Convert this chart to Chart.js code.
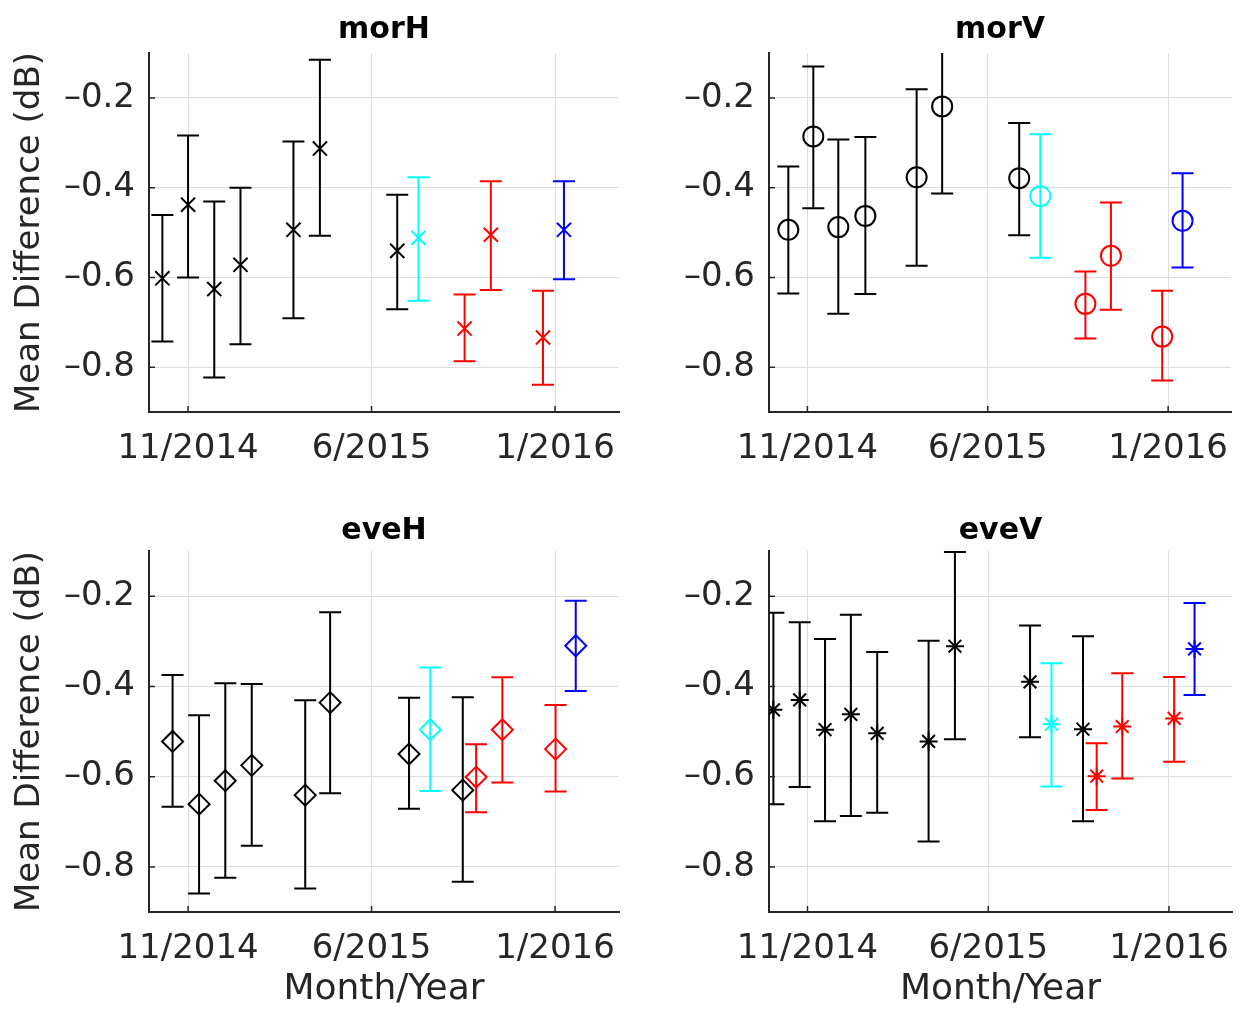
<!DOCTYPE html>
<html lang="en">
<head>
    <meta charset="UTF-8" />
    <title>Mean Difference by Month/Year</title>
    <script src="https://cdn.jsdelivr.net/npm/chart.js"></script>
    <style>
        body { margin: 0; background: #fff; }
        #wrap { position: relative; width: 1243px; height: 1011px; overflow: hidden; }
        #wrap canvas { position: absolute; }
    </style>
</head>
<body>
<div id="wrap">
    <canvas id="morH" width="640" height="490" style="left:0px;top:0px"></canvas>
    <canvas id="morV" width="603" height="490" style="left:640px;top:0px"></canvas>
    <canvas id="eveH" width="640" height="521" style="left:0px;top:490px"></canvas>
    <canvas id="eveV" width="603" height="521" style="left:640px;top:490px"></canvas>
</div>

<script>
    // x values are months counted from Jan 2014 (10 = 11/2014, 17 = 6/2015, 24 = 1/2016)
    const xTickMonths = [10, 17, 24];
    const xTickLabels = ['11/2014', '6/2015', '1/2016'];
    const yTicks = [-0.8, -0.6, -0.4, -0.2];

    // k = black, c = cyan, r = red, b = blue
    const morH_x     = [9.02, 10.0, 11.0, 12.0, 14.02, 15.03, 17.98, 18.79, 20.55, 21.55, 23.54, 24.34];
    const morH_mean  = [-0.602, -0.438, -0.626, -0.572, -0.494, -0.313, -0.541, -0.512, -0.714, -0.505, -0.734, -0.494];
    const morH_upper = [-0.461, -0.284, -0.431, -0.400, -0.297, -0.115, -0.416, -0.377, -0.638, -0.386, -0.630, -0.386];
    const morH_lower = [-0.743, -0.600, -0.823, -0.749, -0.691, -0.507, -0.671, -0.652, -0.787, -0.628, -0.839, -0.604];
    const morH_group = ['k', 'k', 'k', 'k', 'k', 'k', 'k', 'c', 'r', 'r', 'r', 'b'];

    const morV_x     = [9.26, 10.23, 11.2, 12.25, 14.24, 15.23, 18.22, 19.04, 20.79, 21.78, 23.77, 24.56];
    const morV_mean  = [-0.494, -0.286, -0.488, -0.463, -0.377, -0.219, -0.379, -0.419, -0.659, -0.552, -0.732, -0.474];
    const morV_upper = [-0.353, -0.130, -0.293, -0.287, -0.181, -0.02, -0.256, -0.281, -0.587, -0.433, -0.630, -0.368];
    const morV_lower = [-0.636, -0.446, -0.681, -0.637, -0.574, -0.413, -0.506, -0.556, -0.736, -0.672, -0.830, -0.578];
    const morV_group = ['k', 'k', 'k', 'k', 'k', 'k', 'k', 'c', 'r', 'r', 'r', 'b'];

    const eveH_x     = [9.41, 10.42, 11.42, 12.43, 14.47, 15.42, 18.43, 19.24, 20.48, 20.99, 21.99, 24.02, 24.79];
    const eveH_mean  = [-0.522, -0.661, -0.609, -0.575, -0.641, -0.436, -0.550, -0.496, -0.630, -0.601, -0.496, -0.539, -0.310];
    const eveH_upper = [-0.375, -0.464, -0.393, -0.395, -0.431, -0.236, -0.425, -0.358, -0.424, -0.528, -0.380, -0.441, -0.210];
    const eveH_lower = [-0.667, -0.859, -0.824, -0.753, -0.848, -0.637, -0.671, -0.632, -0.833, -0.679, -0.613, -0.633, -0.410];
    const eveH_group = ['k', 'k', 'k', 'k', 'k', 'k', 'k', 'c', 'k', 'r', 'r', 'r', 'b'];

    const eveV_x     = [8.68, 9.70, 10.68, 11.68, 12.70, 14.69, 15.71, 18.62, 19.45, 20.67, 21.2, 22.19, 24.2, 24.99];
    const eveV_mean  = [-0.452, -0.430, -0.496, -0.462, -0.504, -0.522, -0.311, -0.390, -0.484, -0.495, -0.599, -0.489, -0.471, -0.317];
    const eveV_upper = [-0.237, -0.258, -0.295, -0.241, -0.324, -0.299, -0.102, -0.265, -0.349, -0.289, -0.526, -0.371, -0.379, -0.215];
    const eveV_lower = [-0.661, -0.623, -0.699, -0.687, -0.680, -0.744, -0.517, -0.513, -0.622, -0.699, -0.674, -0.604, -0.567, -0.419];
    const eveV_group = ['k', 'k', 'k', 'k', 'k', 'k', 'k', 'k', 'c', 'k', 'r', 'r', 'r', 'b'];

    const groupColors = { k: '#000000', c: '#00ffff', r: '#ff0000', b: '#0000ff' };
    const textColor = '#262626';
    const FONT = "'DejaVu Sans', sans-serif";

    // vertical error bars with caps, drawn under the markers
    const errorBars = {
        id: 'errorBars',
        beforeDatasetsDraw(chart) {
            const ctx = chart.ctx;
            const area = chart.chartArea;
            const yScale = chart.scales.y;
            ctx.save();
            ctx.beginPath();
            ctx.rect(area.left, area.top, area.right - area.left, area.bottom - area.top);
            ctx.clip();
            chart.data.datasets.forEach((ds, di) => {
                chart.getDatasetMeta(di).data.forEach((pt, i) => {
                    const top = yScale.getPixelForValue(ds.upper[i]);
                    const bot = yScale.getPixelForValue(ds.lower[i]);
                    ctx.strokeStyle = ds.pointBorderColor[i];
                    ctx.lineWidth = 2;
                    ctx.beginPath();
                    ctx.moveTo(pt.x, top); ctx.lineTo(pt.x, bot);
                    ctx.moveTo(pt.x - 11, top); ctx.lineTo(pt.x + 11, top);
                    ctx.moveTo(pt.x - 11, bot); ctx.lineTo(pt.x + 11, bot);
                    ctx.stroke();
                });
            });
            ctx.restore();
        }
    };

    // small inward tick marks like the original axes
    const innerTicks = {
        id: 'innerTicks',
        afterDraw(chart) {
            const ctx = chart.ctx;
            const area = chart.chartArea;
            const xs = chart.scales.x, ys = chart.scales.y;
            ctx.save();
            ctx.strokeStyle = textColor;
            ctx.lineWidth = 1.5;
            ctx.beginPath();
            xs.ticks.forEach(t => {
                const px = xs.getPixelForValue(t.value);
                ctx.moveTo(px, area.bottom); ctx.lineTo(px, area.bottom - 6);
            });
            ys.ticks.forEach(t => {
                const py = ys.getPixelForValue(t.value);
                ctx.moveTo(area.left, py); ctx.lineTo(area.left + 6, py);
            });
            ctx.stroke();
            ctx.restore();
        }
    };

    function makePanel(id, xs, means, uppers, lowers, groups, title, marker, radius, leftCol, topRow) {
        const colors = groups.map(g => groupColors[g]);
        return new Chart(document.getElementById(id), {
            type: 'scatter',
            data: {
                datasets: [{
                    data: xs.map((x, i) => ({ x: x, y: means[i] })),
                    upper: uppers,
                    lower: lowers,
                    pointStyle: marker,
                    pointRadius: radius,
                    pointHoverRadius: radius,
                    pointBorderWidth: 2,
                    pointBorderColor: colors,
                    pointBackgroundColor: 'rgba(0,0,0,0)'
                }]
            },
            options: {
                responsive: false,
                animation: false,
                events: [],
                layout: { padding: { left: 0, right: leftCol ? 21 : 4, top: 0, bottom: 0 } },
                plugins: {
                    legend: { display: false },
                    tooltip: { enabled: false },
                    title: {
                        display: true,
                        text: title,
                        fullSize: false,
                        color: '#000',
                        font: { family: FONT, size: 30, weight: 'bold', lineHeight: 1.2 },
                        padding: topRow ? { top: 12, bottom: 5 } : { top: 23, bottom: 2 }
                    }
                },
                scales: {
                    x: {
                        type: 'linear',
                        min: 8.51,
                        max: 26.44,
                        afterBuildTicks: s => { s.ticks = xTickMonths.map(v => ({ value: v })); },
                        afterFit: s => { s.height = topRow ? 78 : 99; s.paddingLeft = 0; s.paddingRight = 0; },
                        ticks: {
                            autoSkip: false,
                            maxRotation: 0,
                            padding: 17,
                            color: textColor,
                            font: { family: FONT, size: 34 },
                            callback: v => xTickLabels[xTickMonths.indexOf(v)]
                        },
                        grid: { color: '#dcdcdc', lineWidth: 1, drawTicks: false },
                        border: { display: true, color: textColor, width: 2 },
                        title: {
                            display: !topRow,
                            text: 'Month/Year',
                            color: textColor,
                            font: { family: FONT, size: 36 },
                            padding: { top: 0, bottom: 0 }
                        }
                    },
                    y: {
                        min: -0.9,
                        max: -0.1,
                        afterBuildTicks: s => { s.ticks = yTicks.map(v => ({ value: v })); },
                        afterFit: s => { s.width = leftCol ? 149 : 129; s.paddingTop = 0; s.paddingBottom = 0; },
                        ticks: {
                            padding: 14,
                            color: textColor,
                            font: { family: FONT, size: 34 },
                            callback: v => v.toFixed(1).replace('-', '\u2013')
                        },
                        grid: { color: '#dcdcdc', lineWidth: 1, drawTicks: false },
                        border: { display: true, color: textColor, width: 2 },
                        title: {
                            display: leftCol,
                            text: 'Mean Difference (dB)',
                            color: textColor,
                            font: { family: FONT, size: 34 },
                            padding: { top: 9.6, bottom: 0 }
                        }
                    }
                }
            },
            plugins: [errorBars, innerTicks]
        });
    }

    makePanel('morH', morH_x, morH_mean, morH_upper, morH_lower, morH_group, 'morH', 'crossRot', 10, true, true);
    makePanel('morV', morV_x, morV_mean, morV_upper, morV_lower, morV_group, 'morV', 'circle', 10, false, true);
    makePanel('eveH', eveH_x, eveH_mean, eveH_upper, eveH_lower, eveH_group, 'eveH', 'rectRot', 10.5, true, false);
    makePanel('eveV', eveV_x, eveV_mean, eveV_upper, eveV_lower, eveV_group, 'eveV', 'star', 9, false, false);
</script>
</body>
</html>
